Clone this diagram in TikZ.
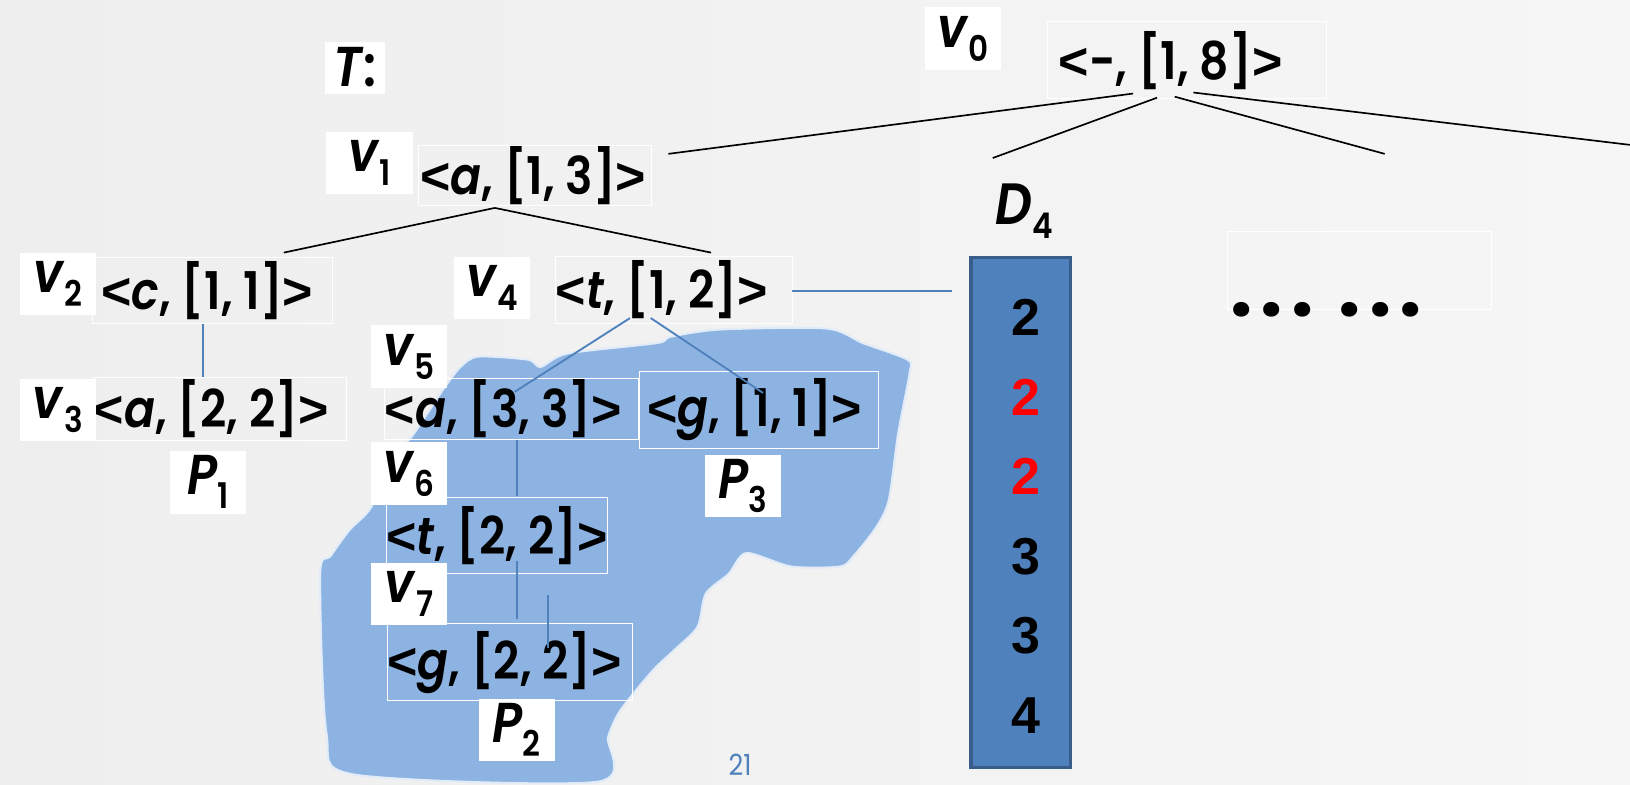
\documentclass[tikz,border=0pt]{standalone}
\usepackage{fontspec}
\setmainfont{Poppins}[FakeStretch=0.88, BoldFont={* SemiBold}, BoldItalicFont={* SemiBold Italic}]
\newfontfamily\dotfont{Poppins}
\newfontfamily\arialfont{Liberation Sans}
\usetikzlibrary{calc}

\definecolor{slideblue}{RGB}{79,129,189}
\definecolor{slideedge}{RGB}{56,93,138}
\definecolor{blobblue}{RGB}{141,179,226}
\definecolor{bgleft}{RGB}{238,238,238}
\definecolor{bgright}{RGB}{246,246,246}

\newcommand{\subidx}[1]{\raisebox{-0.45ex}{\fontsize{17}{17}\selectfont #1}}
\newcommand{\lbr}{{\arialfont<}}
\newcommand{\rbr}{{\arialfont>}}

\tikzset{
  entry/.style={draw=white, line width=0.5pt, inner sep=0pt, font=\fontsize{25}{28}\selectfont\bfseries},
  tag/.style={fill=white, inner sep=0pt, minimum width=36.5pt, minimum height=30pt, font=\fontsize{27}{30}\selectfont\bfseries},
  treeline/.style={black, line width=0.8pt},
  pathline/.style={slideblue, line width=0.9pt},
  count/.style={font=\arialfont\fontsize{25}{28}\selectfont\bfseries},
}

\begin{document}
\begin{tikzpicture}[x=0.5pt, y=-0.5pt]

    % Frame of the slide
    \useasboundingbox (0,0) rectangle (1568,755);
    \clip (0,0) rectangle (1568,755);
    \shade[left color=bgleft, right color=bgright] (0,0) rectangle (1568,755);

    % Shaded region behind P2 and P3
    \fill[blobblue, draw=white!75!blobblue, line width=1pt] plot[smooth cycle, tension=0.45] coordinates {
        (443,353) (460,343) (508,346) (520,353) (546,340) (632,330) (645,324) (692,317)
        (795,316) (830,330) (873,346) (875,359) (864,417) (855,481) (843,507) (821,535)
        (808,545) (761,545) (718,532) (701,552) (679,571) (671,603) (649,625) (628,645)
        (597,683) (585,709) (575,752) (340,745) (314,705) (308,552) (318,535) (336,510)
        (357,488) (374,443) (396,420) (426,375)};

    % Entries of the tree
    \node[entry, minimum width=134pt, minimum height=37pt] (root) at (1142,58) {\lbr-, [1, 8]\rbr\hspace*{16pt}};
    \node[entry, minimum width=112pt, minimum height=29pt] (n1) at (515,169) {\lbr\textit{a}, [1, 3]\rbr\hspace*{2pt}};
    \node[entry, minimum width=115.5pt, minimum height=31.5pt] (n2) at (204.5,279.5) {\lbr\textit{c}, [1, 1]\rbr\hspace*{5pt}};
    \node[entry, minimum width=122pt, minimum height=30.5pt] (n3) at (211,393.5) {\lbr\textit{a}, [2, 2]\rbr\hspace*{8pt}};
    \node[entry, minimum width=113.5pt, minimum height=32pt] (n4) at (648.5,279) {\lbr\textit{t}, [1, 2]\rbr\hspace*{12pt}};
    \node[entry, minimum width=120pt, minimum height=29.5pt] (n5) at (492,393.5) {\lbr\textit{a}, [3, 3]\rbr\hspace*{8pt}};
    \node[entry, minimum width=115pt, minimum height=37pt] (n8) at (730,394) {\lbr\textit{g}, [1, 1]\rbr\hspace*{4pt}};
    \node[entry, minimum width=103pt, minimum height=36.5pt] (n6) at (478,515.5) {\lbr\textit{t}, [2, 2]\rbr};
    \node[entry, minimum width=115.5pt, minimum height=37pt] (n7) at (490.5,637) {\lbr\textit{g}, [2, 2]\rbr\hspace*{5pt}};
    \node[entry, minimum width=127pt, minimum height=37.5pt] (more) at (1308,260.5) {};
    \node[font=\dotfont\fontsize{38}{38}\selectfont\bfseries, anchor=base west, inner sep=0pt] (dots) at (1183,304) {.\kern4pt.\kern4pt.\kern12pt.\kern4pt.\kern4pt.};

    % Names of the nodes and paths
    \node[tag, minimum width=28.5pt, minimum height=25pt] (tT) at (341.5,65) {\textit{T}:};
    \node[tag] (t0) at (926.5,37) {\textit{v}\subidx{0}};
    \node[tag, minimum width=41.5pt] (t1) at (355.5,157) {\textit{v}\subidx{1}};
    \node[tag] (t2) at (55.5,273) {\textit{v}\subidx{2}};
    \node[tag] (t3) at (55.5,394.5) {\textit{v}\subidx{3}};
    \node[tag] (t4) at (473.5,277) {\textit{v}\subidx{4}};
    \node[tag] (t5) at (393.5,343) {\textit{v}\subidx{5}};
    \node[tag] (t6) at (393.5,455.5) {\textit{v}\subidx{6}};
    \node[tag] (t7) at (393.5,571.5) {\textit{v}\subidx{7}};
    \node[tag] (p1) at (200,464) {\textit{P}\subidx{1}};
    \node[tag] (p2) at (497,702) {\textit{P}\subidx{2}};
    \node[tag] (p3) at (714.5,467.5) {\textit{P}\subidx{3}};

    % Column D4
    \node[font=\fontsize{28}{30}\selectfont\bfseries] (dlab) at (985,203) {\textit{D}\subidx{4}};
    \node[fill=slideblue, draw=slideedge, line width=1.5pt, minimum width=48pt, minimum height=245pt, inner sep=0pt] (col) at (982,493) {};
    \node[count] (c1) at (987,305) {2};
    \node[count, red] (c2) at (987,382) {2};
    \node[count, red] (c3) at (987,458) {2};
    \node[count] (c4) at (987,535) {3};
    \node[count] (c5) at (987,611) {3};
    \node[count] (c6) at (987,688) {4};

    % Ends of the edges
    \coordinate (r-a) at (1090,90);
    \coordinate (r-b) at (1113,94);
    \coordinate (r-c) at (1130,93);
    \coordinate (r-d) at (1148,89);
    \coordinate (e-a) at (643,148);
    \coordinate (e-b) at (955,152);
    \coordinate (e-c) at (1332,148);
    \coordinate (e-d) at (1590,142);
    \coordinate (n1-s) at (476,200);
    \coordinate (n2-n) at (273,243);
    \coordinate (n4-n) at (684,243);
    \coordinate (n2-s) at (195,312);
    \coordinate (n3-n) at (195,363);
    \coordinate (n4-e) at (762,280);
    \coordinate (col-w) at (916,280);
    \coordinate (n4-a) at (606,306);
    \coordinate (n4-b) at (626,306);
    \coordinate (n5-n) at (495,377);
    \coordinate (n8-n) at (734,378);
    \coordinate (n5-s) at (497,423);
    \coordinate (n6-n) at (497,477);
    \coordinate (n6-s) at (497,540);
    \coordinate (n7-n) at (497,595);
    \coordinate (n7-a) at (527,572);
    \coordinate (n7-b) at (527,623);

    % Draw the edges of the tree
    \draw[treeline] (r-a) -- (e-a);
    \draw[treeline] (r-b) -- (e-b);
    \draw[treeline] (r-c) -- (e-c);
    \draw[treeline] (r-d) -- (e-d);
    \draw[treeline] (n1-s) -- (n2-n);
    \draw[treeline] (n1-s) -- (n4-n);

    % Draw the edges of the paths
    \draw[pathline] (n2-s) -- (n3-n);
    \draw[pathline] (n4-e) -- (col-w);
    \draw[pathline] (n4-a) -- (n5-n);
    \draw[pathline] (n4-b) -- (n8-n);
    \draw[pathline] (n5-s) -- (n6-n);
    \draw[pathline] (n6-s) -- (n7-n);
    \draw[pathline] (n7-a) -- (n7-b);

    % Page number
    \node[slideblue, font=\fontsize{14}{14}\selectfont, inner sep=0pt] (page) at (712,736) {21};

\end{tikzpicture}
\end{document}
